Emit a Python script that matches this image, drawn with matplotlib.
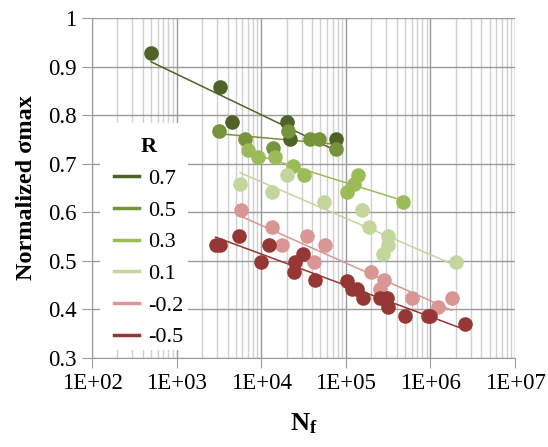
import numpy as np
import matplotlib
matplotlib.use("Agg")
import matplotlib.pyplot as plt
from matplotlib.patches import Rectangle
from matplotlib.ticker import FixedLocator, FuncFormatter, LogLocator

plt.rcParams['font.family'] = ['Liberation Serif', 'DejaVu Serif']
plt.rcParams['mathtext.fontset'] = 'custom'
plt.rcParams['mathtext.rm'] = 'Liberation Serif'
plt.rcParams['mathtext.bf'] = 'Liberation Serif:bold'

# cycles to failure and normalized max stress, one pair of lists per stress ratio R
r07_n = [500, 3260, 4520, 20000, 21900, 76500]
r07_s = [0.928, 0.857, 0.785, 0.786, 0.750, 0.750]

r05_n = [3200, 6490, 13900, 20900, 37700, 48200, 76500]
r05_s = [0.768, 0.750, 0.732, 0.767, 0.750, 0.750, 0.730]

r03_n = [6980, 9290, 14550, 23900, 31800, 102500, 126000, 138000, 471000]
r03_s = [0.728, 0.713, 0.713, 0.695, 0.677, 0.641, 0.658, 0.677, 0.621]

r01_n = [5610, 13500, 20000, 55700, 154000, 190000, 318000, 318000, 277000, 2010000]
r01_s = [0.658, 0.641, 0.677, 0.622, 0.605, 0.569, 0.551, 0.533, 0.514, 0.497]

rm02_n = [5770, 13300, 17800, 35200, 56800, 42100, 199000, 281000, 254000, 611000, 1220000, 1790000]
rm02_s = [0.605, 0.569, 0.533, 0.551, 0.533, 0.497, 0.478, 0.460, 0.442, 0.423, 0.406, 0.423]

rm05_n = [2900, 3260, 5510, 12500, 9860, 30900, 25100, 24600, 43800, 102600, 117500,
          134600, 161000, 254000, 304000, 315000, 501000, 938000, 989000, 2560000]
rm05_s = [0.533, 0.533, 0.551, 0.533, 0.497, 0.514, 0.497, 0.478, 0.461, 0.459, 0.442,
          0.442, 0.423, 0.423, 0.423, 0.405, 0.387, 0.387, 0.387, 0.369]

r_labels = ['0.7', '0.5', '0.3', '0.1', '-0.2', '-0.5']
r_colors = ['#4f6228', '#77933c', '#9bbb59', '#c3d69b', '#d99694', '#953735']
series = [(r07_n, r07_s), (r05_n, r05_s), (r03_n, r03_s),
          (r01_n, r01_s), (rm02_n, rm02_s), (rm05_n, rm05_s)]

fig = plt.figure(figsize=(5.48, 4.47), dpi=100)
ax = fig.add_axes([92 / 548, 1 - 358 / 447, 423 / 548, 340 / 447])

handles = []
for (n, s), lab, col in zip(series, r_labels, r_colors):
    n = np.array(n, dtype=float)
    s = np.array(s, dtype=float)
    ax.plot(n, s, 'o', color=col, markersize=10.5, markeredgewidth=0, zorder=3)
    # logarithmic trendline over the range of the data
    k, b = np.polyfit(np.log10(n), s, 1)
    xs = np.array([n.min(), n.max()])
    ax.plot(xs, k * np.log10(xs) + b, '-', color=col, lw=1.1, zorder=2)
    h, = ax.plot([], [], '-', color=col, lw=2.5)
    handles.append(h)

ax.set_xscale('log')
ax.set_xlim(1e2, 1e7)
ax.set_ylim(0.3, 1.0)
ax.xaxis.set_major_locator(FixedLocator([1e2, 1e3, 1e4, 1e5, 1e6, 1e7]))
ax.xaxis.set_minor_locator(LogLocator(base=10, subs=np.arange(2, 10)))
ax.xaxis.set_major_formatter(FuncFormatter(lambda v, p: '1E+%02d' % round(np.log10(v))))
ax.xaxis.set_minor_formatter(FuncFormatter(lambda v, p: ''))
ax.yaxis.set_major_locator(FixedLocator(np.arange(0.3, 1.001, 0.1)))
ax.yaxis.set_major_formatter(FuncFormatter(lambda v, p: '%g' % round(v, 1)))

ax.grid(which='major', color='#9a9a9a', lw=1.0, zorder=0)
ax.grid(which='minor', axis='x', color='#d0d0d0', lw=1.0, zorder=0)
ax.set_axisbelow(True)
for side in ['top', 'right']:
    ax.spines[side].set_visible(False)
for side in ['left', 'bottom']:
    ax.spines[side].set_color('#9a9a9a')
ax.tick_params(which='major', length=7, color='#9a9a9a', labelsize=16.5, pad=4)
ax.tick_params(which='minor', length=0)

ax.set_ylabel('Normalized σmax', fontsize=17.5, fontweight='bold', labelpad=8)
ax.set_xlabel(r'$\mathbf{N_f}$', fontsize=19, labelpad=12)

# white panel behind the legend, hiding the grid there
ax.add_patch(Rectangle((0.019, 0.0235), 0.208, 0.6675, transform=ax.transAxes,
                       facecolor='white', edgecolor='none', zorder=4))
leg = ax.legend(handles, r_labels, title='R', loc='lower left',
                bbox_to_anchor=(0.0426, 0.018), borderaxespad=0,
                fontsize=16, title_fontproperties={'weight': 'bold', 'size': 16},
                frameon=False, handlelength=1.1, handletextpad=0.4,
                labelspacing=0.5, borderpad=0.2)
leg.set_zorder(5)

fig.savefig('out.png', dpi=100)
